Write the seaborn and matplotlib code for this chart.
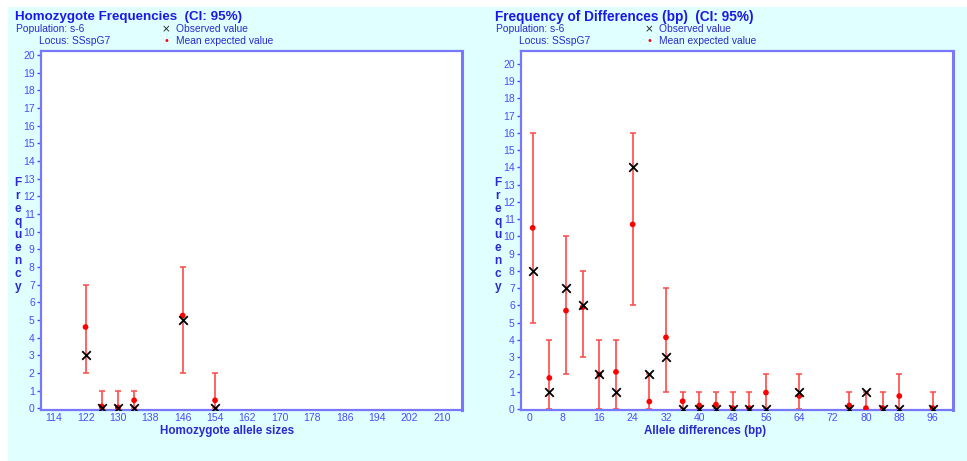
import matplotlib
matplotlib.use("Agg")
import matplotlib.pyplot as plt
from matplotlib.patches import Rectangle
import seaborn as sns
import numpy as np

# ---------------- data ----------------
# Left panel: homozygote frequencies
homo_sizes = [122, 126, 130, 134, 146, 154]
homo_obs = [3, 0, 0, 0, 5, 0]
homo_exp = [4.6, 0.1, 0.05, 0.45, 5.25, 0.45]
homo_lo = [2, 0, 0, 0, 2, 0]
homo_hi = [7, 1, 1, 1, 8, 2]
homo_xticks = [114, 122, 130, 138, 146, 154, 162, 170, 178, 186, 194, 202, 210]

# Right panel: frequency of differences
diff_bp = [0, 4, 8, 12, 16, 20, 24, 28, 32, 36, 40, 44, 48, 52, 56, 64, 76, 80, 84, 88, 96]
diff_obs = [8, 1, 7, 6, 2, 1, 14, 2, 3, 0, 0, 0, 0, 0, 0, 1, 0, 1, 0, 0, 0]
diff_exp = [10.5, 1.8, 5.7, 5.9, 2.0, 2.15, 10.7, 0.43, 4.15, 0.45, 0.2, 0.25,
            0.05, 0.05, 0.95, 0.75, 0.2, 0.05, 0.05, 0.75, 0.05]
diff_lo = [5, 0, 2, 3, 0, 0, 6, 0, 1, 0, 0, 0, 0, 0, 0, 0, 0, 0, 0, 0, 0]
diff_hi = [16, 4, 10, 8, 4, 4, 16, 2, 7, 1, 1, 1, 1, 1, 2, 2, 1, 1, 1, 2, 1]
diff_xticks = [0, 8, 16, 24, 32, 40, 48, 56, 64, 72, 80, 88, 96]

yticks = list(range(0, 21))

# ---------------- style ----------------
W, H = 967, 461
sns.set_theme(style="white")
plt.rcParams['font.family'] = ['Liberation Sans', 'DejaVu Sans']

BG = '#e0ffff'
TITLE_C = '#1a1ae6'
TEXT_C = '#2a2ad0'
TICK_C = '#4a4aff'
SPINE_C = '#7878ff'
ERR_C = '#ff4848'

fig = plt.figure(figsize=(W / 100, H / 100), dpi=100)
fig.patch.set_facecolor('white')
fig.patches.append(Rectangle((8 / W, 0), 1 - 8 / W, 1 - 7 / H, transform=fig.transFigure,
                             facecolor=BG, edgecolor='none', zorder=-10))


def px(x, y):
    return x / W, 1 - y / H


def make_axes(l, t, r, b):
    x0, y1 = px(l, t)
    x1, y0 = px(r, b)
    return fig.add_axes([x0, y0, x1 - x0, y1 - y0])


def draw_panel(ax, xs, obs, exp, lo, hi, xlim, ylim, xticks, xticklabels):
    ax.set_facecolor('white')
    exp_a = np.array(exp)
    yerr = np.vstack([exp_a - np.array(lo), np.array(hi) - exp_a])
    ax.errorbar(xs, exp, yerr=yerr, fmt='none', ecolor=ERR_C, elinewidth=1.2,
                capsize=2.3, capthick=1.1, zorder=2)
    sns.scatterplot(x=xs, y=exp, ax=ax, color='#ff0000', s=17, marker='o',
                    edgecolor='none', zorder=3)
    sns.scatterplot(x=xs, y=obs, ax=ax, color='black', s=38, marker='x',
                    linewidth=1.3, zorder=4)
    ax.set_xlim(*xlim)
    ax.set_ylim(*ylim)
    ax.set_yticks(yticks)
    ax.set_yticklabels([str(v) for v in yticks], color=TICK_C, fontsize=7.5)
    ax.set_xticks(xticks)
    ax.set_xticklabels(xticklabels, color=TICK_C, fontsize=7.5)
    ax.tick_params(axis='y', which='both', left=True, length=3, width=1, color=TICK_C,
                   pad=1.5, direction='out')
    ax.tick_params(axis='x', which='both', bottom=False, length=0, pad=2.5)
    for sp in ax.spines.values():
        sp.set_color(SPINE_C)
        sp.set_linewidth(1.6)
        sp.set_visible(True)
    ax.spines['right'].set_linewidth(2.2)
    ax.set_xlabel('')
    ax.set_ylabel('')
    ax.grid(False)


# Left panel
axL = make_axes(41, 51, 462, 410)
draw_panel(axL, homo_sizes, homo_obs, homo_exp, homo_lo, homo_hi,
           (111.0, 215.0), (-0.1, 20.23), homo_xticks,
           [str(v) for v in homo_xticks])

# Right panel
axR = make_axes(521, 51, 953, 410)
draw_panel(axR, diff_bp, diff_obs, diff_exp, diff_lo, diff_hi,
           (-2.8, 100.9), (-0.06, 20.75), diff_xticks,
           [(str(v) + '  ') if v < 10 else str(v) for v in diff_xticks])

# X axis labels (placed as in the reference, not centred on the axes)
fig.text(*px(227, 431), 'Homozygote allele sizes', color=TEXT_C, fontsize=8.4,
         fontweight='bold', va='center', ha='center')
fig.text(*px(705, 431), 'Allele differences (bp)', color=TEXT_C, fontsize=8.4,
         fontweight='bold', va='center', ha='center')


# Header texts
def header(x0, title, tsize):
    fig.text(*px(x0, 17), title, color=TITLE_C, fontsize=tsize, fontweight='bold',
             va='center', ha='left')
    fig.text(*px(x0 + 1, 29), 'Population: s-6', color=TEXT_C, fontsize=7.4,
             va='center', ha='left')
    fig.text(*px(x0 + 24, 41), 'Locus: SSspG7', color=TEXT_C, fontsize=7.4,
             va='center', ha='left')


header(15, 'Homozygote Frequencies  (CI: 95%)', 9.6)
header(495, 'Frequency of Differences (bp)  (CI: 95%)', 9.8)

for x_sym, x_txt in [(166, 176), (649, 659)]:
    fig.text(*px(x_sym, 29), '\u00d7', color='#222222', fontsize=7.5, va='center', ha='center',
             family=['DejaVu Sans'])
    fig.text(*px(x_txt, 29), 'Observed value', color=TEXT_C, fontsize=7.4, va='center', ha='left')
    fig.text(*px(x_sym, 41), '\u2022', color='#ff0000', fontsize=7, va='center', ha='center',
             family=['DejaVu Sans'])
    fig.text(*px(x_txt, 41), 'Mean expected value', color=TEXT_C, fontsize=7.4, va='center', ha='left')

# Stacked vertical y-labels
for x in (18, 498):
    fig.text(*px(x, 235), '\n'.join('Frequency'), color=TEXT_C, fontsize=8.6,
             fontweight='bold', va='center', ha='center', linespacing=1.1)

fig.savefig('out.png', dpi=100, facecolor=fig.get_facecolor())
